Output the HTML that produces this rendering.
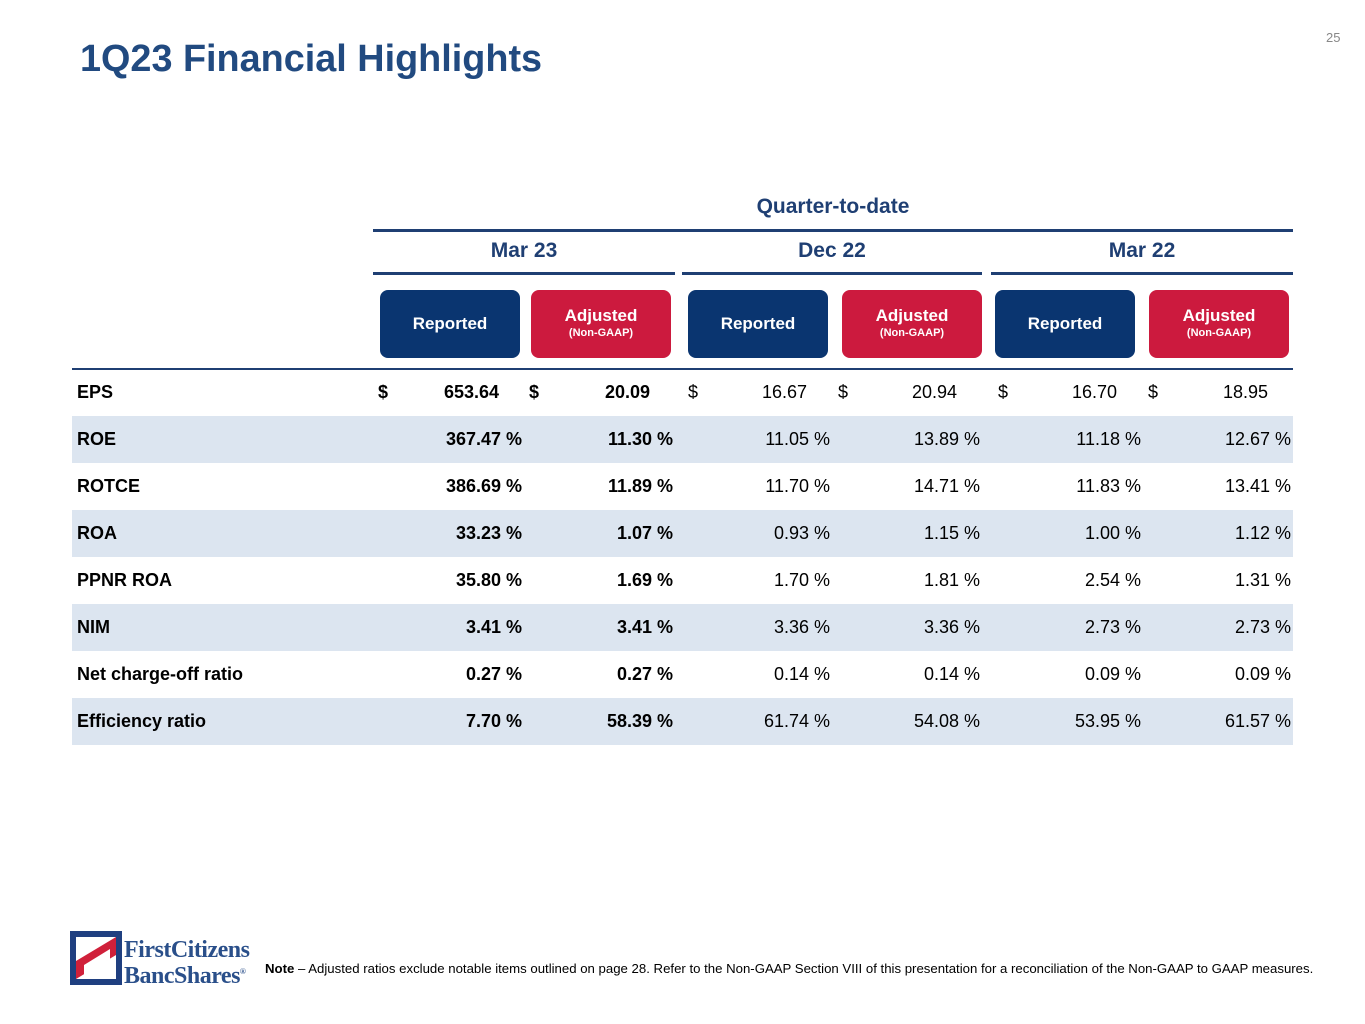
<!DOCTYPE html>
<html><head><meta charset="utf-8"><style>
body{margin:0;width:1365px;height:1024px;background:#fff;position:relative;font-family:"Liberation Sans",sans-serif;overflow:hidden}
.a{position:absolute}
.t{color:#1f3f73}
.badge{position:absolute;top:290px;width:140px;height:68px;border-radius:8px;color:#fff;font-weight:bold;text-align:center;font-size:17px}
.rep{background:#0a3570;line-height:68px}
.adj{background:#cc1a3e}
.adj span{display:block;font-size:11px;margin-top:1px}
.row{position:absolute;left:72px;width:1221px;height:47px;font-size:18px;color:#000}
.sh{background:#dce5f0}
.lab{position:absolute;left:5px;top:13px;font-weight:bold}
.v{position:absolute;top:13px;text-align:right;width:140px}
.b{font-weight:bold}
.d{position:absolute;top:13px}
.ln{position:absolute;background:#1f3f73;height:3px}
</style></head><body>
<div class="a t" style="left:80px;top:38px;font-size:37.8px;font-weight:bold;color:#214a80">1Q23 Financial Highlights</div>
<div class="a" style="left:1326px;top:30px;font-size:13px;color:#888">25</div>
<div class="a t" style="left:373px;width:920px;text-align:center;top:195px;font-size:21px;font-weight:bold">Quarter-to-date</div>
<div class="ln" style="left:373px;width:920px;top:229px"></div>
<div class="a t" style="left:373px;width:302px;text-align:center;top:239px;font-size:21px;font-weight:bold">Mar 23</div>
<div class="a t" style="left:682px;width:300px;text-align:center;top:239px;font-size:21px;font-weight:bold">Dec 22</div>
<div class="a t" style="left:991px;width:302px;text-align:center;top:239px;font-size:21px;font-weight:bold">Mar 22</div>
<div class="ln" style="left:373px;width:302px;top:272px"></div>
<div class="ln" style="left:682px;width:300px;top:272px"></div>
<div class="ln" style="left:991px;width:302px;top:272px"></div>
<div class="badge rep" style="left:380px">Reported</div>
<div class="badge adj" style="left:531px;padding-top:16px;height:52px">Adjusted<span>(Non-GAAP)</span></div>
<div class="badge rep" style="left:688px">Reported</div>
<div class="badge adj" style="left:842px;padding-top:16px;height:52px">Adjusted<span>(Non-GAAP)</span></div>
<div class="badge rep" style="left:995px">Reported</div>
<div class="badge adj" style="left:1149px;padding-top:16px;height:52px">Adjusted<span>(Non-GAAP)</span></div>
<div class="ln" style="left:72px;width:1221px;top:368px;height:2px"></div>
<div id="tbl"></div>
<svg class="a" style="left:70px;top:931px" width="52" height="54" viewBox="0 0 52 54">
<rect width="52" height="54" fill="#1f3f80"/><rect x="6" y="6" width="40" height="42" fill="#fff"/>
<polygon points="6,48 6,30 46,6 46,24" fill="#d0203a"/>
<polygon points="14,44 14,34 40,18 40,28" fill="#fff"/>
</svg>
<div class="a" style="left:124px;top:939px;font-family:'Liberation Serif',serif;color:#2a4f8a;font-size:24px;line-height:22px;font-weight:bold;letter-spacing:-0.5px">FirstCitizens<br>BancShares<sup style="font-size:8px">®</sup></div>
<div class="a" style="left:265px;top:961px;font-size:13.2px;color:#000"><b>Note</b> – Adjusted ratios exclude notable items outlined on page 28. Refer to the Non-GAAP Section VIII of this presentation for a reconciliation of the Non-GAAP to GAAP measures.</div>
<script>
const metrics=["EPS","ROE","ROTCE","ROA","PPNR ROA","NIM","Net charge-off ratio","Efficiency ratio"];
const marRep=["653.64","367.47","386.69","33.23","35.80","3.41","0.27","7.70"];
const marAdj=["20.09","11.30","11.89","1.07","1.69","3.41","0.27","58.39"];
const decRep=["16.67","11.05","11.70","0.93","1.70","3.36","0.14","61.74"];
const decAdj=["20.94","13.89","14.71","1.15","1.81","3.36","0.14","54.08"];
const m22Rep=["16.70","11.18","11.83","1.00","2.54","2.73","0.09","53.95"];
const m22Adj=["18.95","12.67","13.41","1.12","1.31","2.73","0.09","61.57"];
const cols=[marRep,marAdj,decRep,decAdj,m22Rep,m22Adj];
const rightPct=[522,673,830,980,1141,1291];
const rightEps=[499,650,807,957,1117,1268];
const dollarX=[378,529,688,838,998,1148];
const tbl=document.getElementById('tbl');
metrics.forEach((m,i)=>{
 const r=document.createElement('div');
 
 
 r.className='row'+(i%2?' sh':'');
 r.style.top=(369+i*47)+'px';
 let h='<div class="lab">'+m+'</div>';
 cols.forEach((c,j)=>{
  const bold=j<2?' b':'';
  if(i===0){
   h+='<div class="d'+bold+'" style="left:'+(dollarX[j]-72)+'px">$</div>';
   h+='<div class="v'+bold+'" style="left:'+(rightEps[j]-72-140)+'px">'+c[i]+'</div>';
  } else {
   h+='<div class="v'+bold+'" style="left:'+(rightPct[j]-72-140)+'px">'+c[i]+' %</div>';
  }
 });
 r.innerHTML=h;
 tbl.appendChild(r);
});
</script>
</body></html>
